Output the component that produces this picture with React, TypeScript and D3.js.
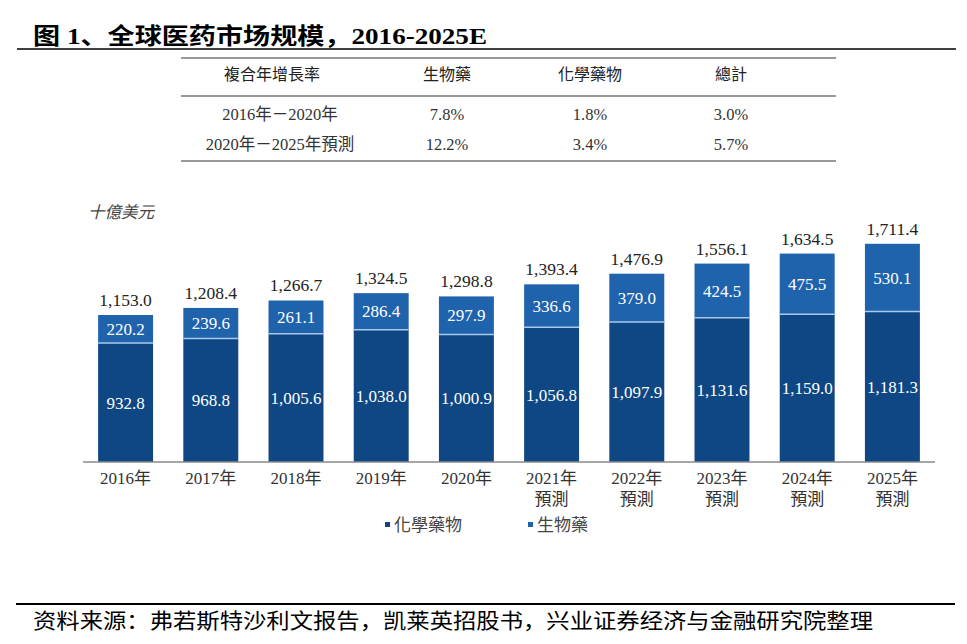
import React from "react";
import * as d3 from "d3";

// years on the x axis, forecast years get a second line
const years = ["2016年", "2017年", "2018年", "2019年", "2020年", "2021年", "2022年", "2023年", "2024年", "2025年"];
const forecastNote = ["", "", "", "", "", "預測", "預測", "預測", "預測", "預測"];

// 十億美元
const chemical = [932.8, 968.8, 1005.6, 1038.0, 1000.9, 1056.8, 1097.9, 1131.6, 1159.0, 1181.3];
const biologics = [220.2, 239.6, 261.1, 286.4, 297.9, 336.6, 379.0, 424.5, 475.5, 530.1];
const totals = [1153.0, 1208.4, 1266.7, 1324.5, 1298.8, 1393.4, 1476.9, 1556.1, 1634.5, 1711.4];

// CAGR table
const tableHeader = ["複合年增長率", "生物藥", "化學藥物", "總計"];
const tableRows = [
  ["2016年－2020年", "7.8%", "1.8%", "3.0%"],
  ["2020年－2025年預測", "12.2%", "3.4%", "5.7%"],
];

const CHEM_COLOR = "#0e4784";
const BIO_COLOR = "#1f63ad";
const SERIF = "'Liberation Serif', 'Times New Roman', 'Noto Sans CJK TC', serif";
const SANS = "'Noto Sans CJK TC', 'Noto Sans', sans-serif";

const fmt = d3.format(",.1f");

const App: React.FC = () => {
  const width = 967;
  const height = 644;
  const axisY = 462;

  const x = d3
    .scaleBand<string>()
    .domain(years)
    .range([83, 935])
    .paddingInner(0.355)
    .paddingOuter(0.1775);

  const y = d3.scaleLinear().domain([0, 1800]).range([axisY, axisY - 1800 * 0.1275]);

  const colX = [272, 447, 590, 731];

  return (
    <svg
      width={width}
      height={height}
      style={{ position: "absolute", left: 0, top: 0, background: "#fff" }}
    >
      {/* title */}
      <text
        x={33}
        y={44}
        fontFamily="'Liberation Serif', 'Noto Sans CJK SC', serif"
        fontWeight={700}
        fontSize={23}
        textLength={454}
        lengthAdjust="spacingAndGlyphs"
        fill="#000"
      >
        图 1、全球医药市场规模，2016-2025E
      </text>
      <line x1={17} x2={956} y1={49} y2={49} stroke="#000" strokeWidth={1.6} />

      {/* CAGR table */}
      <line x1={181} x2={836} y1={58} y2={58} stroke="#777" strokeWidth={1.5} />
      <line x1={181} x2={836} y1={96} y2={96} stroke="#777" strokeWidth={1.5} />
      <line x1={181} x2={836} y1={161} y2={161} stroke="#777" strokeWidth={1.5} />
      {tableHeader.map((h, i) => (
        <text
          key={h}
          x={colX[i]}
          y={80}
          textAnchor="middle"
          fontFamily={SANS}
          fontWeight={400}
          fontSize={16}
          fill="#222"
        >
          {h}
        </text>
      ))}
      {tableRows.map((row, r) =>
        row.map((cell, i) => (
          <text
            key={r + "-" + i}
            x={i === 0 ? 280 : colX[i]}
            y={120 + r * 30}
            textAnchor="middle"
            fontFamily={SERIF}
            fontSize={16.5}
            fill="#333"
          >
            {cell}
          </text>
        ))
      )}

      {/* unit */}
      <text x={88} y={218} fontFamily={SERIF} fontStyle="italic" fontSize={16.5} fill="#444">
        十億美元
      </text>

      {/* bars */}
      {years.map((yr, i) => {
        const bx = x(yr) || 0;
        const bw = x.bandwidth();
        const cx = bx + bw / 2;
        const chemTop = y(chemical[i]);
        const totalTop = y(chemical[i] + biologics[i]);
        return (
          <g key={yr}>
            <rect x={bx} y={chemTop} width={bw} height={axisY - chemTop} fill={CHEM_COLOR} />
            <rect x={bx} y={totalTop} width={bw} height={chemTop - totalTop} fill={BIO_COLOR} />
            <line x1={bx} x2={bx + bw} y1={chemTop} y2={chemTop} stroke="#a9c9ea" strokeWidth={1.5} />
            <text
              x={cx}
              y={(chemTop + axisY) / 2 + 6}
              textAnchor="middle"
              fontFamily={SERIF}
              fontSize={17}
              fill="#fff"
            >
              {fmt(chemical[i])}
            </text>
            <text
              x={cx}
              y={(chemTop + totalTop) / 2 + 6}
              textAnchor="middle"
              fontFamily={SERIF}
              fontSize={17}
              fill="#fff"
            >
              {fmt(biologics[i])}
            </text>
            <text
              x={cx}
              y={totalTop - 9}
              textAnchor="middle"
              fontFamily={SERIF}
              fontSize={17.5}
              fill="#222"
            >
              {fmt(totals[i])}
            </text>
            <text x={cx} y={484} textAnchor="middle" fontFamily={SERIF} fontSize={17} fill="#333">
              {yr}
            </text>
            {forecastNote[i] && (
              <text x={cx} y={505} textAnchor="middle" fontFamily={SERIF} fontSize={17} fill="#333">
                {forecastNote[i]}
              </text>
            )}
          </g>
        );
      })}
      <line x1={83} x2={935} y1={axisY} y2={axisY} stroke="#8a8a8a" strokeWidth={1.5} />

      {/* legend */}
      <rect x={385} y={522} width={5} height={5} fill={CHEM_COLOR} />
      <text x={394} y={531} fontFamily={SANS} fontSize={17} fill="#444">
        化學藥物
      </text>
      <rect x={528} y={522} width={5} height={5} fill={BIO_COLOR} />
      <text x={537} y={531} fontFamily={SANS} fontSize={17} fill="#444">
        生物藥
      </text>

      {/* source */}
      <line x1={16} x2={955} y1={604} y2={604} stroke="#000" strokeWidth={2} />
      <text
        x={33}
        y={628}
        fontFamily="'Noto Sans CJK SC', sans-serif"
        fontSize={21}
        textLength={840}
        lengthAdjust="spacingAndGlyphs"
        fill="#000"
      >
        资料来源：弗若斯特沙利文报告，凯莱英招股书，兴业证券经济与金融研究院整理
      </text>
    </svg>
  );
};

export default App;
